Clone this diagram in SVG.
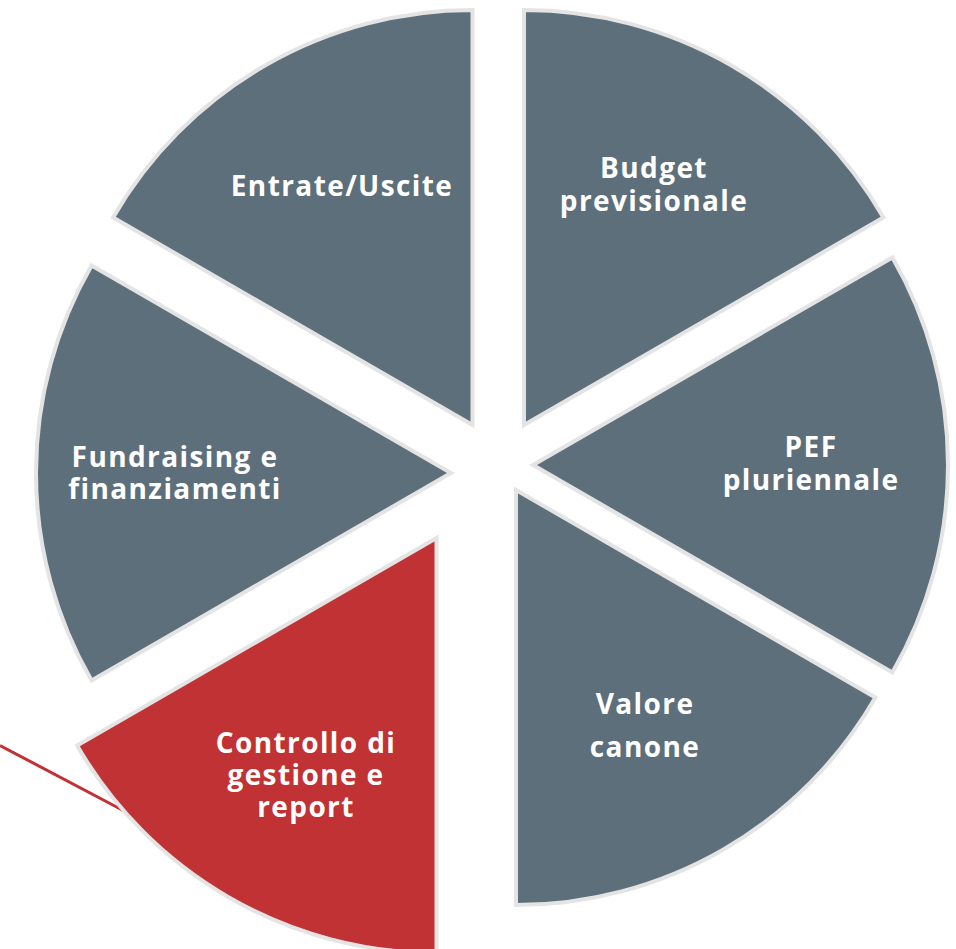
<svg xmlns="http://www.w3.org/2000/svg" width="956" height="949" viewBox="0 0 956 949">
  <style>
    .slice { stroke: #e4e4e4; stroke-width: 4; stroke-linejoin: miter; }
    .grey { fill: #5d6f7b; }
    .red { fill: #c03234; }
    .lbl { font-family: "Open Sans", "Liberation Sans", sans-serif; font-weight: 700; font-size: 28px; fill: #ffffff; text-anchor: middle; letter-spacing: 1.4px; }
    .leader { stroke: #c03234; stroke-width: 3; fill: none; }
  </style>
  <rect width="956" height="949" fill="#ffffff"/>

  <g id="connectors">
    <line class="leader" x1="0" y1="745.5" x2="128" y2="813"/>
  </g>

  <g id="entrate-uscite">
    <path class="slice grey" d="M472.5,425 L113.1,217.5 A415,415 0 0 1 472.5,10 Z"/>
    <text class="lbl" x="342" y="196">Entrate/Uscite</text>
  </g>

  <g id="budget-previsionale">
    <path class="slice grey" d="M524,425 L524,10 A415,415 0 0 1 883.4,217.5 Z"/>
    <text class="lbl" x="654" y="178">Budget</text>
    <text class="lbl" x="654" y="211">previsionale</text>
  </g>

  <g id="pef-pluriennale">
    <path class="slice grey" d="M533,465 L892.4,257.5 A415,415 0 0 1 892.4,672.5 Z"/>
    <text class="lbl" x="811" y="457">PEF</text>
    <text class="lbl" x="811" y="490">pluriennale</text>
  </g>

  <g id="valore-canone">
    <path class="slice grey" d="M516,490 L875.4,697.5 A415,415 0 0 1 516,905 Z"/>
    <text class="lbl" x="645" y="714">Valore</text>
    <text class="lbl" x="645" y="757">canone</text>
  </g>

  <g id="controllo-gestione">
    <path class="slice red" d="M436.5,538 L436.5,953 A415,415 0 0 1 77.1,745.5 Z"/>
    <text class="lbl" x="306" y="753">Controllo di</text>
    <text class="lbl" x="306" y="785">gestione e</text>
    <text class="lbl" x="306" y="817">report</text>
  </g>

  <g id="fundraising-finanziamenti">
    <path class="slice grey" d="M451,473 L91.6,680.5 A415,415 0 0 1 91.6,265.5 Z"/>
    <text class="lbl" x="175" y="467">Fundraising e</text>
    <text class="lbl" x="175" y="499">finanziamenti</text>
  </g>
</svg>
